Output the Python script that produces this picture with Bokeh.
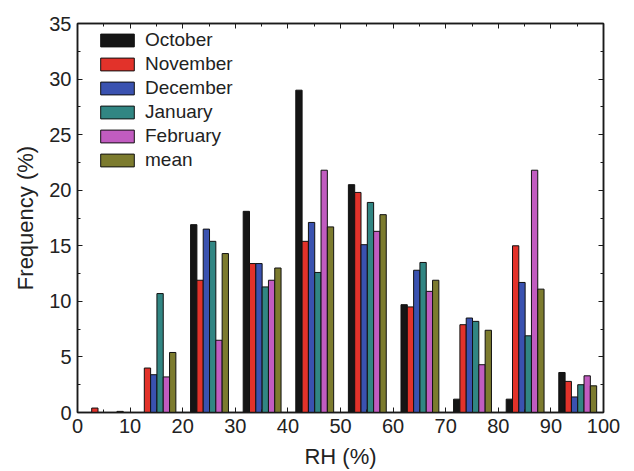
from bokeh.plotting import figure
from bokeh.models import Range1d, LinearAxis, Legend, LegendItem, SingleIntervalTicker, CustomJSTickFormatter
from bokeh.embed import file_html
from bokeh.resources import INLINE

bins = [0, 10, 20, 30, 40, 50, 60, 70, 80, 90]
series_names = ["October", "November", "December", "January", "February", "mean"]
october = [0, 0, 16.9, 18.1, 29.0, 20.5, 9.7, 1.2, 1.2, 3.6]
november = [0.4, 4.0, 11.9, 13.4, 15.4, 19.8, 9.5, 7.9, 15.0, 2.8]
december = [0, 3.4, 16.5, 13.4, 17.1, 15.1, 12.8, 8.5, 11.7, 1.4]
january = [0, 10.7, 15.4, 11.3, 12.6, 18.9, 13.5, 8.2, 6.9, 2.5]
february = [0, 3.2, 6.5, 11.9, 21.8, 16.3, 10.9, 4.3, 21.8, 3.3]
mean = [0.1, 5.4, 14.3, 13.0, 16.7, 17.8, 11.9, 7.4, 11.1, 2.4]
series = [october, november, december, january, february, mean]
colors = ["#151515", "#e2322a", "#3a52b0", "#318683", "#c15cc0", "#7c7b2e"]

FONT = "Liberation Sans"
W, H = 626, 471
p = figure(width=W, height=H, output_backend="svg", toolbar_location=None,
           x_range=Range1d(0, 100), y_range=Range1d(0, 35),
           min_border_left=77, min_border_right=23, min_border_top=23, min_border_bottom=58)
p.grid.visible = False
p.outline_line_color = "#1a1a1a"
p.outline_line_width = 1.5
p.background_fill_color = "white"
p.border_fill_color = "white"

bar_w = 1.2
renderers = []
for i, (vals, c) in enumerate(zip(series, colors)):
    xs = [b + 2.1 + bar_w * i for b in bins]
    r = p.vbar(x=xs, top=vals, bottom=0, width=bar_w, fill_color=c,
               line_color="#111111", line_width=1)
    renderers.append(r)

def style_axis(ax, show_labels=True):
    ax.axis_line_color = "#1a1a1a"
    ax.axis_line_width = 1.5
    ax.major_tick_in = 5
    ax.major_tick_out = 0
    ax.minor_tick_in = 3
    ax.minor_tick_out = 0
    ax.major_tick_line_color = "#1a1a1a"
    ax.minor_tick_line_color = "#1a1a1a"
    ax.major_label_text_font = FONT
    ax.major_label_text_color = "#222222"
    if show_labels:
        ax.major_label_text_font_size = "20px"
        ax.major_label_standoff = 6
    else:
        ax.formatter = CustomJSTickFormatter(code="return ''")
        ax.major_label_standoff = 0

xt = SingleIntervalTicker(interval=10, num_minor_ticks=2)
yt = SingleIntervalTicker(interval=5, num_minor_ticks=2)
p.xaxis.ticker = xt
p.yaxis.ticker = yt
style_axis(p.xaxis[0])
style_axis(p.yaxis[0])
p.xaxis.axis_label = "RH (%)"
p.yaxis.axis_label = "Frequency (%)"
for ax in (p.xaxis[0], p.yaxis[0]):
    ax.axis_label_text_font = FONT
    ax.axis_label_text_font_size = "22px"
    ax.axis_label_text_font_style = "normal"
    ax.axis_label_text_color = "#222222"
    ax.axis_label_standoff = 8

top_ax = LinearAxis(ticker=SingleIntervalTicker(interval=10, num_minor_ticks=2))
right_ax = LinearAxis(ticker=SingleIntervalTicker(interval=5, num_minor_ticks=2))
style_axis(top_ax, False)
style_axis(right_ax, False)
p.add_layout(top_ax, "above")
p.add_layout(right_ax, "right")

items = [LegendItem(label=n, renderers=[r]) for n, r in zip(series_names, renderers)]
legend = Legend(items=items, location=(19, 241), margin=0, padding=0,
                glyph_width=42, glyph_height=16, label_height=16, spacing=2,
                label_standoff=7, label_text_font=FONT, label_text_font_size="19px",
                label_text_color="#222222",
                border_line_color=None, background_fill_alpha=0)
p.add_layout(legend, "center")

open("out.html", "w").write(file_html(p, INLINE))
